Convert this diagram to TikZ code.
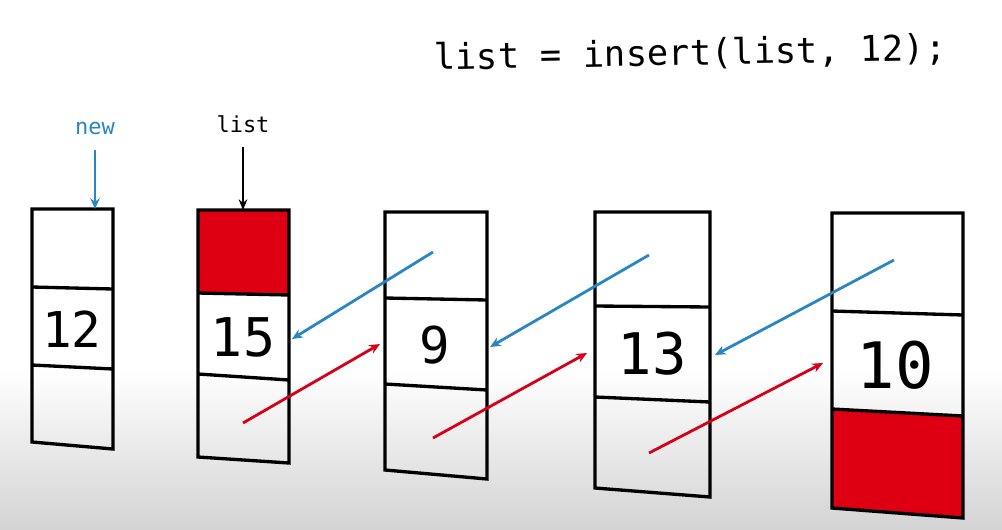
\documentclass[tikz,border=0pt]{standalone}
\usepackage{fontspec}
\setmonofont{DejaVu Sans Mono}
\usetikzlibrary{arrows.meta}
\definecolor{ptrblue}{RGB}{40,135,195}
\definecolor{ptrred}{RGB}{215,0,25}
\definecolor{cellred}{RGB}{222,0,18}
\tikzset{
  cell/.style={draw=black,line width=2.5pt,line join=miter},
  bluearrow/.style={draw=ptrblue,line width=2.1pt,-{Stealth[length=8pt,width=7pt]}},
  redarrow/.style={draw=ptrred,line width=2.1pt,-{Stealth[length=8pt,width=7pt]}},
  blackarrow/.style={draw=black,line width=1.6pt,-{Stealth[length=8pt,width=6.5pt]}},
  val/.style={font=\ttfamily,inner sep=0pt,anchor=center},
  lbl/.style={font=\ttfamily\fontsize{16.5}{18}\selectfont,inner sep=1pt}
}
\begin{document}
\begin{tikzpicture}[x=0.75pt,y=-0.75pt]
\useasboundingbox (0,0) rectangle (1002,529);
% background
\fill[white] (0,0) rectangle (1002,370);
\shade[top color=white,bottom color=black!17] (0,369) rectangle (1002,529);

% code text
\node[font=\ttfamily\fontsize{26.6}{30}\selectfont,rotate=1.1,inner sep=0pt] (code) at (690,54) {list = insert(list, 12);};

% box 1 (new)
\draw[cell] (32,209) -- (113,209) -- (113,449) -- (32,442) -- cycle;
\draw[cell] (32,287) -- (113,289);
\draw[cell] (32,365) -- (113,369);
% box 2 (list)
\fill[cellred] (198,210) -- (289,210) -- (289,295) -- (198,293) -- cycle;
\draw[cell] (198,210) -- (289,210) -- (289,463) -- (198,457) -- cycle;
\draw[cell] (198,293) -- (289,295);
\draw[cell] (198,374) -- (289,380);
% box 3 (9)
\draw[cell] (385,212) -- (487,212) -- (487,479) -- (385,470) -- cycle;
\draw[cell] (385,298) -- (487,300);
\draw[cell] (385,384) -- (487,390);
% box 4 (13)
\draw[cell] (595,212) -- (710,212) -- (710,497) -- (595,488) -- cycle;
\draw[cell] (595,306) -- (710,307);
\draw[cell] (595,397) -- (710,402);
% box 5 (10)
\fill[cellred] (832,409) -- (963,416) -- (963,518) -- (832,508) -- cycle;
\draw[cell] (832,213) -- (963,213) -- (963,518) -- (832,508) -- cycle;
\draw[cell] (832,311) -- (963,315);
\draw[cell] (832,409) -- (963,416);

% values
\node[val,font=\ttfamily\fontsize{37}{40}\selectfont] (v12) at (72,329) {12};
\node[val,font=\ttfamily\fontsize{40}{44}\selectfont] (v15) at (243,337) {15};
\node[val,font=\ttfamily\fontsize{38}{42}\selectfont] (v9) at (435,345) {9};
\node[val,font=\ttfamily\fontsize{43}{46}\selectfont] (v13) at (652,354) {13};
\node[val,font=\ttfamily\fontsize{48}{52}\selectfont] (v10) at (895,365) {10};

% labels
\node[lbl,text=ptrblue] (new) at (95,128) {new};
\node[lbl] (list) at (243,124) {list};
\coordinate (newtop) at (95,209);
\coordinate (listtop) at (243,210);
\draw[bluearrow,line width=1.4pt] (95,150) -- (newtop);
\draw[blackarrow] (243,147) -- (listtop);

% pointer coordinates
\coordinate (b1s) at (433,252); \coordinate (b1e) at (292,339);
\coordinate (b2s) at (649,255); \coordinate (b2e) at (490,347);
\coordinate (b3s) at (894,260); \coordinate (b3e) at (715,355);
\coordinate (r1s) at (243,423); \coordinate (r1e) at (380,344);
\coordinate (r2s) at (433,438); \coordinate (r2e) at (587,353);
\coordinate (r3s) at (649,453); \coordinate (r3e) at (823,363);
\draw[bluearrow] (b1s) -- (b1e);
\draw[bluearrow] (b2s) -- (b2e);
\draw[bluearrow] (b3s) -- (b3e);
\draw[redarrow] (r1s) -- (r1e);
\draw[redarrow] (r2s) -- (r2e);
\draw[redarrow] (r3s) -- (r3e);
\end{tikzpicture}
\end{document}
